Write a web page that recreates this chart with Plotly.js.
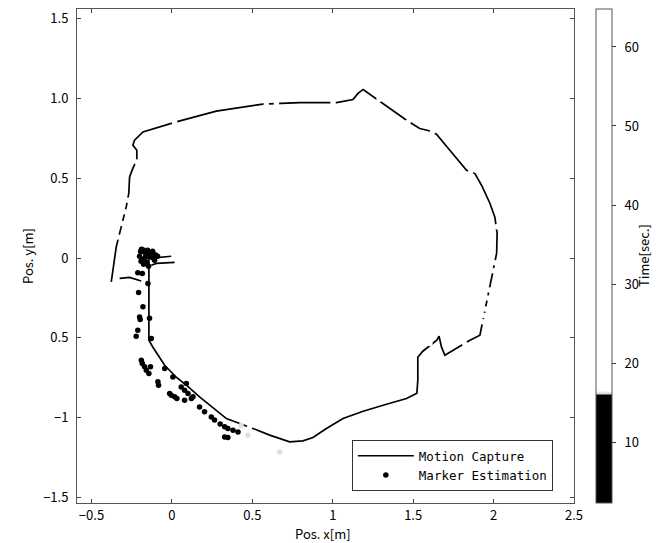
<!DOCTYPE html>
<html>
<head>
<meta charset="utf-8">
<script src="https://cdn.plot.ly/plotly-3.0.1.min.js"></script>
<style>html,body{margin:0;padding:0;background:#fff;}#chart{width:658px;height:543px;}</style>
</head>
<body>
<div id="chart"></div>
<script>
// Motion capture trajectory (null = pen up between separate strokes)
var mocapX = [-0.325, -0.263, -0.191, null,
  -0.139, -0.004, null,
  -0.128, -0.097, 0.017, null,
  -0.143, -0.143, -0.143, -0.118, -0.087, -0.045, 0.027, 0.090, 0.172, 0.235, 0.339, 0.504, 0.608, 0.732, 0.815, 0.877, 0.961, 1.064, 1.189, 1.334, 1.459, 1.523, 1.529, 1.529, 1.560, 1.647, 1.661, 1.676, 1.697, 1.853, 1.915, 1.925, 1.956, 1.988, 2.019, 2.022, 2.008, 1.977, 1.925, 1.884, 1.832, 1.728, 1.645, 1.604, 1.541, 1.459, 1.210, 1.189, 1.157, 1.126, 1.023, 0.795, 0.566, 0.276, 0.027, -0.180, -0.232, -0.243, -0.218, -0.218, -0.243, -0.263, -0.268, -0.284, -0.315, -0.346, -0.377];
var mocapY = [-0.128, -0.122, -0.144, null,
  -0.003, 0.011, null,
  -0.045, -0.034, -0.028, null,
  -0.001, -0.264, -0.515, -0.559, -0.609, -0.672, -0.747, -0.797, -0.870, -0.922, -1.006, -1.068, -1.110, -1.152, -1.146, -1.125, -1.068, -1.006, -0.960, -0.916, -0.880, -0.847, -0.766, -0.622, -0.584, -0.515, -0.490, -0.557, -0.609, -0.515, -0.484, -0.434, -0.283, -0.139, 0.030, 0.155, 0.256, 0.343, 0.456, 0.529, 0.550, 0.675, 0.776, 0.796, 0.811, 0.863, 1.041, 1.056, 1.031, 0.993, 0.974, 0.974, 0.964, 0.920, 0.853, 0.790, 0.738, 0.707, 0.675, 0.613, 0.561, 0.508, 0.404, 0.320, 0.195, 0.070, -0.150];

// Marker estimation points and their time stamps [s]
var markerX = [-0.189, -0.170, -0.151, -0.139, -0.120, -0.101, -0.201, -0.182, -0.157, -0.126, -0.108, -0.176, -0.145, -0.089,
  -0.195, -0.178, -0.162, -0.132, -0.114, -0.165, -0.192, -0.150, -0.118,
  -0.212, -0.184, -0.149, -0.207, -0.180, -0.201, -0.197, -0.139, -0.212, -0.222, -0.128,
  -0.190, -0.184, -0.170, -0.159, -0.143, -0.133, -0.045, -0.087, -0.083, 0.006,
  -0.014, -0.004, 0.017, 0.031, 0.058, 0.079, 0.090, 0.100, 0.079, 0.121, 0.131,
  0.172, 0.203, 0.245, 0.328, 0.348, 0.380, 0.411, 0.328, 0.348, 0.300, 0.265,
  0.430, 0.472, 0.670,
  0.484, 1.604, 1.820, 1.932, 1.940, 1.948, 1.963, 1.974, 1.999, 2.008, 2.019, 1.857, 1.620, 1.469, 1.288,
  1.002, 0.650, 0.587, 0.017, -0.218, -0.274, -0.294, -0.309, -0.336];
var markerY = [0.055, 0.036, 0.049, 0.024, 0.043, 0.018, 0.011, -0.008, -0.026, 0.005, -0.014, -0.039, -0.051, 0.011,
  0.040, 0.050, 0.030, 0.030, 0.000, 0.005, -0.020, 0.010, 0.028,
  -0.093, -0.097, -0.160, -0.216, -0.306, -0.369, -0.385, -0.377, -0.452, -0.490, -0.504,
  -0.640, -0.661, -0.682, -0.703, -0.724, -0.682, -0.692, -0.776, -0.797, -0.745,
  -0.849, -0.860, -0.870, -0.880, -0.808, -0.828, -0.786, -0.849, -0.891, -0.880, -0.870,
  -0.933, -0.964, -0.996, -1.058, -1.068, -1.079, -1.090, -1.121, -1.125, -1.040, -1.015,
  -1.050, -1.110, -1.215,
  -1.058, -0.536, -0.535, -0.400, -0.360, -0.320, -0.250, -0.200, -0.080, -0.030, 0.195, 0.539, 0.790, 0.853, 0.993,
  0.974, 0.967, 0.964, 0.850, 0.602, 0.362, 0.289, 0.216, 0.132];
var markerT = [2.5, 2.6, 2.7, 2.8, 2.9, 3.0, 3.1, 3.2, 3.3, 3.4, 3.5, 3.6, 3.7, 3.8,
  3.9, 4.0, 4.05, 4.1, 4.15, 4.2, 4.25, 4.3, 4.35,
  4.4, 4.5, 4.8, 5.2, 5.8, 6.3, 6.5, 6.4, 7.0, 7.3, 7.4,
  8.6, 8.8, 9.0, 9.2, 9.4, 9.3, 9.6, 10.0, 10.2, 10.1,
  10.9, 11.0, 11.1, 11.2, 11.0, 11.3, 11.1, 11.5, 11.8, 11.7, 11.6,
  12.4, 12.8, 13.3, 14.3, 14.5, 14.8, 15.0, 15.2, 15.4, 14.0, 13.6,
  16.2, 16.2, 16.2,
  18, 24, 25, 26, 26.5, 27, 27.5, 28, 29, 30, 33, 36, 38, 40, 43,
  47, 50, 51, 55, 59, 61, 62, 63, 64];

var xTicks = [-0.5, 0, 0.5, 1, 1.5, 2, 2.5];
var xTickText = ['\u22120.5', '0', '0.5', '1', '1.5', '2', '2.5'];
var yTicks = [-1.5, -1, -0.5, 0, 0.5, 1, 1.5];
var yTickText = ['\u22121.5', '\u22121', '0.5', '0', '0.5', '1.0', '1.5'];
var cbTicks = [10, 20, 30, 40, 50, 60];
var cbTickText = ['\u00a0\u00a010', '\u00a0\u00a020', '\u00a0\u00a030', '\u00a0\u00a040', '\u00a0\u00a050', '\u00a0\u00a060'];

var FONT = '"Noto Sans CJK JP", "Noto Sans", sans-serif';
var tMin = 2.3, tMax = 64.8;
function frac(t) { return (t - tMin) / (tMax - tMin); }

var traces = [
  {
    type: 'scatter', mode: 'lines', name: 'Motion Capture',
    x: mocapX, y: mocapY, connectgaps: false,
    line: {color: '#000', width: 1.7}
  },
  {
    type: 'scatter', mode: 'markers', name: 'Marker Estimation',
    x: markerX, y: markerY,
    marker: {
      size: 5.5, color: markerT, cmin: tMin, cmax: tMax,
      colorscale: [[0, '#000'], [frac(16.0), '#000'], [frac(16.05), '#d0d0d0'], [frac(16.5), '#fff'], [1, '#fff']],
      line: {width: 0},
      showscale: true,
      colorbar: {
        x: 1.044, xanchor: 'left', xpad: 0, y: 0.5, yanchor: 'middle', ypad: 0,
        len: 1, lenmode: 'fraction', thickness: 16,
        outlinewidth: 1, outlinecolor: '#555',
        tickmode: 'array', tickvals: cbTicks, ticktext: cbTickText,
        ticks: 'outside', ticklen: 4, tickcolor: '#333',
        tickfont: {family: FONT, size: 13, color: '#000'}
      }
    }
  }
];

var axisCommon = {
  showgrid: false, zeroline: false, showline: true, linecolor: '#555', linewidth: 1,
  mirror: 'ticks', ticks: 'inside', ticklen: 4, tickcolor: '#444', tickmode: 'array',
  tickfont: {family: FONT, size: 13, color: '#000'}
};

var layout = {
  width: 658, height: 543,
  margin: {l: 77, r: 84, t: 9, b: 40, autoexpand: false},
  paper_bgcolor: '#fff', plot_bgcolor: '#fff',
  font: {family: FONT, size: 13, color: '#000'},
  showlegend: true,
  legend: {
    x: 0.553, y: 0.024, xanchor: 'left', yanchor: 'bottom',
    bgcolor: '#fff', bordercolor: '#333', borderwidth: 1,
    itemwidth: 56,
    font: {family: '"DejaVu Sans Mono", monospace', size: 12.5, color: '#000'},
    tracegroupgap: 0
  },
  xaxis: Object.assign({}, axisCommon, {
    range: [-0.59, 2.5], tickvals: xTicks, ticktext: xTickText
  }),
  yaxis: Object.assign({}, axisCommon, {
    range: [-1.535, 1.56], tickvals: yTicks, ticktext: yTickText,
    ticklabelstandoff: 5,
    title: {text: 'Pos. y[m]', standoff: 6, font: {family: FONT, size: 13, color: '#000'}}
  }),
  annotations: [
    {
      text: 'Pos. x[m]', xref: 'paper', yref: 'paper', x: 0.495, y: 0,
      xanchor: 'center', yanchor: 'middle', yshift: -30, showarrow: false,
      font: {family: FONT, size: 13, color: '#000'}
    },
    {
      text: 'Time[sec.]', xref: 'paper', yref: 'paper', x: 1.139, y: 0.5,
      xanchor: 'center', yanchor: 'middle', textangle: -90, showarrow: false,
      font: {family: FONT, size: 13, color: '#000'}
    }
  ]
};

Plotly.newPlot('chart', traces, layout, {displayModeBar: false, staticPlot: true});
</script>
</body>
</html>
